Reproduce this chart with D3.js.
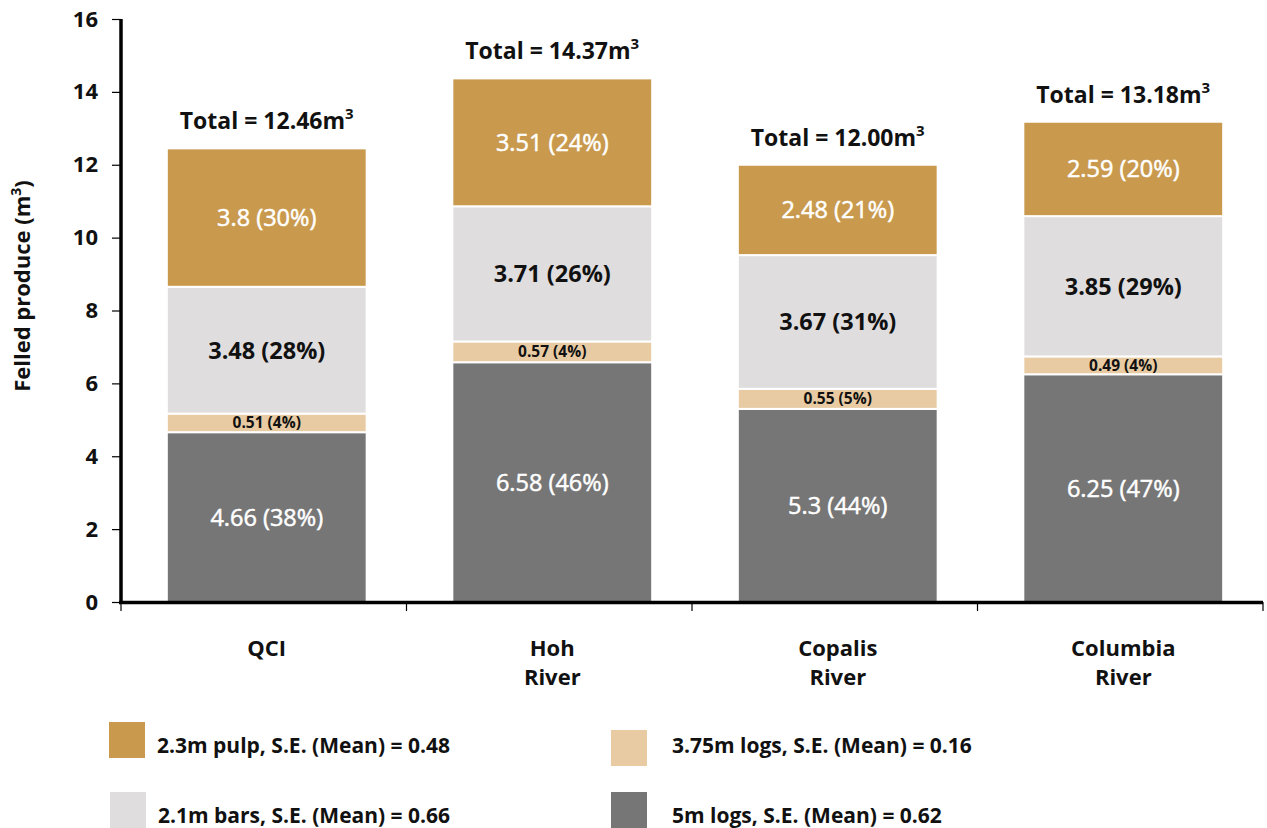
<!DOCTYPE html>
<html>
<head>
<meta charset="utf-8">
<script src="https://cdn.jsdelivr.net/npm/d3@7"></script>
<style>
  body { margin: 0; background: #fff; }
  svg { font-family: "Open Sans", sans-serif; font-weight: 700; }
</style>
</head>
<body>
<svg id="chart" width="1267" height="828"></svg>
<script>
// sites on the x axis
var sites = ["QCI", "Hoh River", "Copalis River", "Columbia River"];
var siteLines = [["QCI"], ["Hoh", "River"], ["Copalis", "River"], ["Columbia", "River"]];
var totalLabels = ["12.46", "14.37", "12.00", "13.18"];

// series from bottom to top
var seriesNames = ["5m logs", "3.75m logs", "2.1m bars", "2.3m pulp"];
var logs5 = [4.66, 6.58, 5.3, 6.25];
var logs375 = [0.51, 0.57, 0.55, 0.49];
var bars21 = [3.48, 3.71, 3.67, 3.85];
var pulp23 = [3.8, 3.51, 2.48, 2.59];
var logs5Pct = [38, 46, 44, 47];
var logs375Pct = [4, 4, 5, 4];
var bars21Pct = [28, 26, 31, 29];
var pulp23Pct = [30, 24, 21, 20];

var yTicks = [0, 2, 4, 6, 8, 10, 12, 14, 16];

var legendItems = [
  { name: "2.3m pulp, S.E. (Mean) = 0.48", series: "2.3m pulp" },
  { name: "3.75m logs, S.E. (Mean) = 0.16", series: "3.75m logs" },
  { name: "2.1m bars, S.E. (Mean) = 0.66", series: "2.1m bars" },
  { name: "5m logs, S.E. (Mean) = 0.62", series: "5m logs" }
];

var colors = {
  "5m logs": "#767676",
  "3.75m logs": "#E8CBA3",
  "2.1m bars": "#E0DDDE",
  "2.3m pulp": "#C99A4E"
};
var textColors = {
  "5m logs": "#fff",
  "3.75m logs": "#111",
  "2.1m bars": "#111",
  "2.3m pulp": "#fff"
};

(function() {
var svg = d3.select("#chart");
var mLeft = 121, mRight = 1263, mTop = 19, mBottom = 602;

var x = d3.scaleBand().domain(sites).range([mLeft, mRight]).paddingInner(0.3).paddingOuter(0.15);
var y = d3.scaleLinear().domain([0, 16]).range([mBottom, mTop]);

// build stack rows
var rows = sites.map(function(s, i) {
  return {
    site: s,
    "5m logs": logs5[i], "3.75m logs": logs375[i], "2.1m bars": bars21[i], "2.3m pulp": pulp23[i]
  };
});
var pcts = { "5m logs": logs5Pct, "3.75m logs": logs375Pct, "2.1m bars": bars21Pct, "2.3m pulp": pulp23Pct };
var stacked = d3.stack().keys(seriesNames)(rows);

var groups = svg.append("g").selectAll("g")
  .data(stacked)
  .enter().append("g")
  .attr("fill", function(d) { return colors[d.key]; });

groups.selectAll("rect")
  .data(function(d) { return d.map(function(p, i) { p.key = d.key; p.i = i; return p; }); })
  .enter().append("rect")
  .attr("x", function(d) { return x(d.data.site) + 3; })
  .attr("width", x.bandwidth())
  .attr("y", function(d) { return y(d[1]); })
  .attr("height", function(d) { return y(d[0]) - y(d[1]); })
  .attr("stroke", "#fff")
  .attr("stroke-width", 2);

// segment labels
var isWhite = function(k) { return k === "5m logs" || k === "2.3m pulp"; };
groups.selectAll("text")
  .data(function(d) { return d; })
  .enter().append("text")
  .attr("x", function(d) { return x(d.data.site) + 3 + x.bandwidth() / 2; })
  .attr("y", function(d) { return (y(d[0]) + y(d[1])) / 2; })
  .attr("dy", "0.36em")
  .attr("text-anchor", "middle")
  .attr("fill", function(d) { return textColors[d.key]; })
  .attr("stroke", function(d) { return isWhite(d.key) ? "#fff" : "none"; })
  .attr("stroke-width", 0.5)
  .attr("font-size", function(d) { return d.key === "3.75m logs" ? 15.5 : (d.key === "2.1m bars" ? 23.5 : 23.5); })
  .attr("font-weight", function(d) { return isWhite(d.key) ? 400 : 700; })
  .text(function(d) {
    return d.data[d.key] + " (" + pcts[d.key][d.i] + "%)";
  });

// totals
var totals = svg.append("g").selectAll("text")
  .data(stacked[stacked.length - 1])
  .enter().append("text")
  .attr("x", function(d) { return x(d.data.site) + 3 + x.bandwidth() / 2; })
  .attr("y", function(d) { return y(d[1]) - 19; })
  .attr("text-anchor", "middle")
  .attr("font-size", 23)
  .attr("fill", "#111");
totals.append("tspan").text(function(d, i) { return "Total = " + totalLabels[i] + "m"; });
totals.append("tspan").attr("font-size", 15).attr("dy", -10).text("3");

// y axis
var yAxis = svg.append("g")
  .attr("transform", "translate(" + mLeft + ",0)")
  .call(d3.axisLeft(y).tickValues(yTicks).tickSize(9).tickPadding(14).tickFormat(d3.format("d")));
yAxis.select(".domain").attr("stroke", "#000").attr("stroke-width", 3.5).attr("d", "M0," + (mBottom + 1) + "V" + mTop);
yAxis.selectAll(".tick line").attr("stroke", "#000").attr("stroke-width", 1.2);
yAxis.selectAll(".tick text").attr("font-size", 22).attr("font-weight", 700).attr("fill", "#111")
  .attr("font-family", "'Open Sans', sans-serif");

// x axis: line with ticks at band boundaries
svg.append("line")
  .attr("x1", mLeft - 2).attr("x2", mRight)
  .attr("y1", mBottom + 0.5).attr("y2", mBottom + 0.5)
  .attr("stroke", "#000").attr("stroke-width", 3.5);
var bounds = d3.range(sites.length + 1).map(function(i) { return mLeft + i * (mRight - mLeft) / sites.length; });
svg.append("g").selectAll("line")
  .data(bounds)
  .enter().append("line")
  .attr("x1", function(d) { return d; }).attr("x2", function(d) { return d; })
  .attr("y1", mBottom).attr("y2", mBottom + 9)
  .attr("stroke", "#000").attr("stroke-width", 1.2);

// category labels
var catText = svg.append("g").selectAll("text")
  .data(sites)
  .enter().append("text")
  .attr("x", function(d) { return x(d) + 3 + x.bandwidth() / 2; })
  .attr("y", 656)
  .attr("text-anchor", "middle")
  .attr("font-size", 22)
  .attr("fill", "#111");
catText.selectAll("tspan")
  .data(function(d, i) { return siteLines[i]; })
  .enter().append("tspan")
  .attr("x", function() { return this.parentNode.getAttribute("x"); })
  .attr("dy", function(d, j) { return j === 0 ? 0 : 29; })
  .text(function(d) { return d; });

// y axis title
svg.append("text")
  .attr("transform", "translate(30," + 286 + ") rotate(-90)")
  .attr("text-anchor", "middle")
  .attr("font-size", 22)
  .attr("fill", "#111")
  .call(function(t) {
    t.append("tspan").text("Felled produce (m");
    t.append("tspan").attr("font-size", 14).attr("dy", -9).text("3");
    t.append("tspan").attr("dy", 9).text(")");
  });

// legend
var legPos = [[109, 722], [611, 730], [110, 792], [611, 792]];
var leg = svg.append("g").selectAll("g")
  .data(legendItems)
  .enter().append("g")
  .attr("transform", function(d, i) { return "translate(" + legPos[i][0] + "," + legPos[i][1] + ")"; });
leg.append("rect")
  .attr("width", 36).attr("height", 36)
  .attr("fill", function(d) { return colors[d.series]; });
leg.append("text")
  .attr("x", function(d, i) { return i % 2 === 0 ? 48 : 61; })
  .attr("y", function(d, i) { return i === 1 ? 15 : 23; })
  .attr("dy", "0.36em")
  .attr("font-size", 21)
  .attr("fill", "#111")
  .text(function(d) { return d.name; });
})();
</script>
</body>
</html>
